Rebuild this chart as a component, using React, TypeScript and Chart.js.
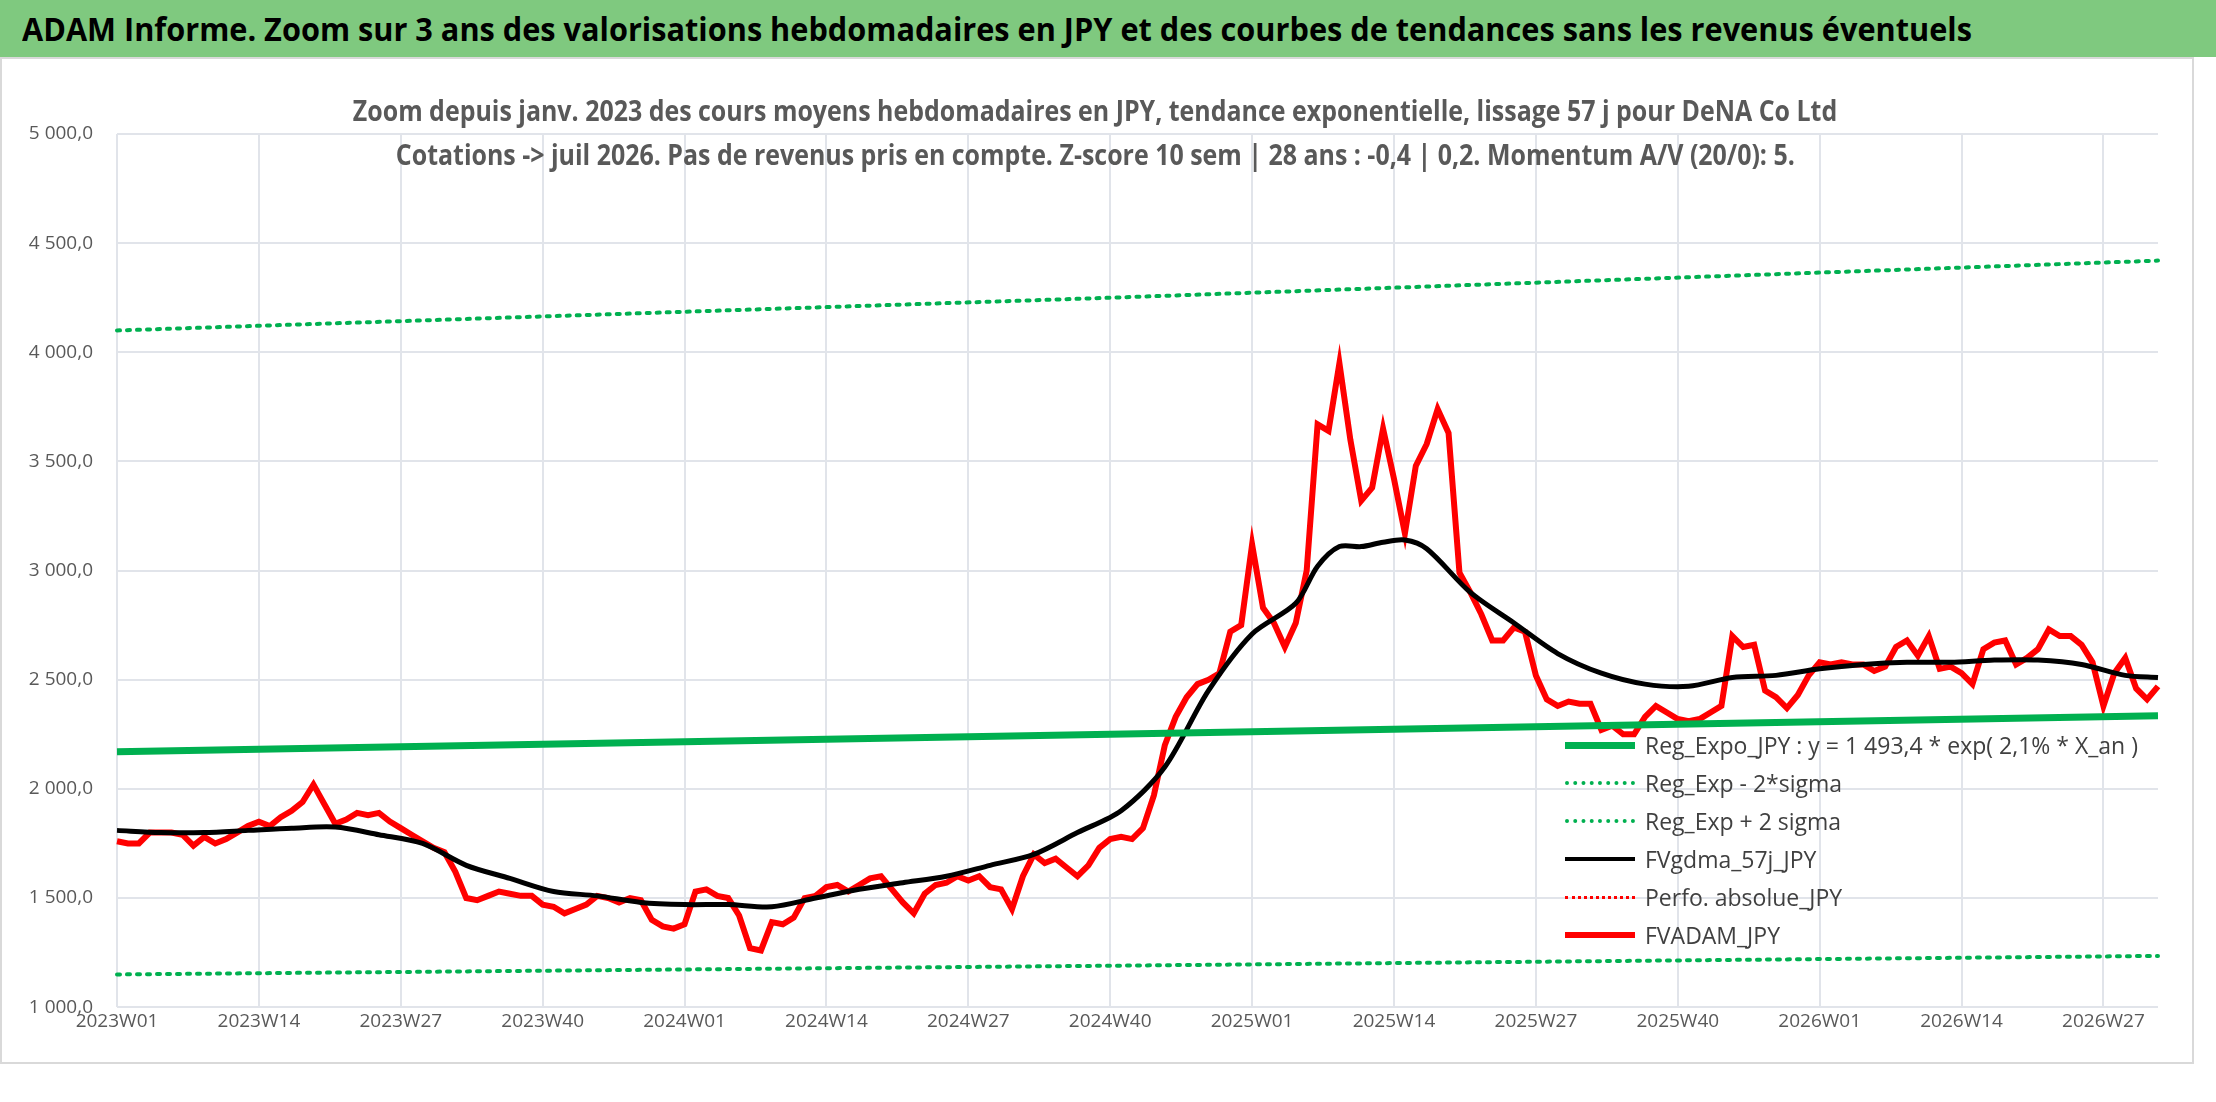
import React, { useEffect, useRef } from "react";
import { Chart, registerables } from "chart.js";
Chart.register(...registerables);

const startYear = 2023;
const weeksPerYear = [52, 52, 52, 52];
const fvadam = [1760,1750,1750,1800,1800,1800,1790,1740,1780,1750,1770,1800,1830,1850,1830,1870,1900,1940,2020,
1930,1840,1860,1890,1880,1890,1850,1820,1790,1760,1730,1710,1620,1500,1490,1510,1530,1520,1510,1510,1470,
1460,1430,1450,1470,1510,1500,1480,1500,1490,1400,1370,1360,1380,1530,1540,1510,1500,1420,1270,1260,
1390,1380,1410,1500,1510,1550,1560,1530,1560,1590,1600,1540,1480,1430,1520,1560,1570,1600,1580,1600,1550,1540,1450,
1600,1700,1660,1680,1640,1600,1650,1730,1770,1780,1770,1820,1970,2200,2330,2420,2480,2500,2530,2720,2750,3120,
2830,2760,2650,2760,3000,3670,3640,3950,3600,3320,3380,3650,3420,3170,3480,3580,3740,3630,2990,2900,2800,2680,2680,2740,2720,
2520,2410,2380,2400,2390,2390,2270,2290,2250,2250,2330,2380,2350,2320,2310,2320,2350,2380,2700,2650,2660,
2450,2420,2370,2430,2520,2580,2570,2580,2570,2570,2540,2560,2650,2680,2610,2700,2550,2560,2530,2480,
2640,2670,2680,2570,2600,2640,2730,2700,2700,2660,2580,2380,2530,2600,2460,2410,2470];
const gdmaIdx = [0,4,8,12,16,20,24,28,32,36,40,44,48,52,56,60,64,68,72,76,80,84,88,92,96,100,104,108,110,112,114,116,118,120,124,128,132,136,140,144,148,152,156,160,164,168,172,176,180,184,187];
const gdmaVal = [1810,1800,1800,1810,1820,1825,1790,1750,1650,1590,1530,1510,1480,1470,1470,1460,1500,1540,1570,1600,1650,1700,1800,1900,2100,2450,2710,2850,3020,3110,3110,3130,3140,3100,2900,2760,2620,2530,2480,2470,2510,2520,2550,2570,2580,2580,2590,2590,2570,2520,2510];
const regIdx = [0, 91, 187];
const regMid = [2170, 2250, 2335];
const regLow = [1150, 1190, 1235];
const regHigh = [4100, 4250, 4420];

const labels: string[] = [];
(() => {
  let y = startYear;
  for (const n of weeksPerYear) {
    for (let w = 1; w <= n; w++) labels.push(`${y}W${String(w).padStart(2, "0")}`);
    y++;
  }
})();
const lab = labels.slice(0, fvadam.length);
const pts = (idx: number[], v: number[]) => idx.map((i, k) => ({ x: lab[i], y: v[k] }));
const fmt = (v: number) => Math.round(v).toString().replace(/\B(?=(\d{3})+(?!\d))/g, " ") + ",0";

const titleLines = [
  "Zoom depuis janv. 2023 des cours moyens hebdomadaires en JPY, tendance exponentielle, lissage 57 j pour DeNA Co Ltd",
  "Cotations -> juil 2026. Pas de revenus pris en compte. Z-score 10 sem | 28 ans : -0,4 | 0,2. Momentum A/V (20/0): 5.",
];

const legendItems = [
  { t: "Reg_Expo_JPY : y = 1 493,4 * exp( 2,1% *  X_an )", c: "#00B050", d: false, w: 7 },
  { t: "Reg_Exp - 2*sigma", c: "#00B050", d: true, w: 4 },
  { t: "Reg_Exp + 2 sigma", c: "#00B050", d: true, w: 4 },
  { t: "FVgdma_57j_JPY", c: "#000", d: false, w: 4 },
  { t: "Perfo. absolue_JPY", c: "#FF0000", d: true, w: 3 },
  { t: "FVADAM_JPY", c: "#FF0000", d: false, w: 6 },
];

export default function App() {
  const ref = useRef<HTMLCanvasElement>(null);
  useEffect(() => {
    document.body.style.margin = "0";
    const ch = new Chart(ref.current!, {
      type: "line",
      data: {
        labels: lab,
        datasets: [
          { data: pts(regIdx, regMid) as any, borderColor: "#00B050", borderWidth: 7, pointRadius: 0 },
          { data: pts(regIdx, regLow) as any, borderColor: "#00B050", borderWidth: 4, borderDash: [3, 7], borderCapStyle: "round", pointRadius: 0 },
          { data: pts(regIdx, regHigh) as any, borderColor: "#00B050", borderWidth: 4, borderDash: [3, 7], borderCapStyle: "round", pointRadius: 0 },
          { data: pts(gdmaIdx, gdmaVal) as any, borderColor: "#000", borderWidth: 5, pointRadius: 0, tension: 0.3 },
          { data: fvadam, borderColor: "#FF0000", borderWidth: 6, pointRadius: 0 },
        ],
      },
      options: {
        animation: false,
        responsive: false,
        layout: { padding: { left: 10, right: 32, top: 74, bottom: 24 } },
        plugins: { legend: { display: false }, tooltip: { enabled: false }, title: { display: false } },
        scales: {
          x: {
            ticks: {
              autoSkip: false, maxRotation: 0, color: "#595959",
              font: { family: "Open Sans", size: 19 },
              callback: (_v: any, i: number) => (i % 13 === 0 ? lab[i] : ""),
            },
            grid: { color: (c: any) => (c.index % 13 === 0 ? "#E1E4EA" : "transparent"), lineWidth: 2, drawTicks: false },
            border: { display: false },
          },
          y: {
            min: 1000, max: 5000,
            afterFit: (s: any) => { s.width = 107; },
            ticks: { stepSize: 500, color: "#595959", font: { family: "Open Sans", size: 19 }, callback: (v: any) => fmt(v), padding: 24 },
            grid: { color: "#E1E4EA", lineWidth: 2, drawTicks: false },
            border: { display: false },
          },
        },
      },
    });
    return () => ch.destroy();
  }, []);
  return (
    <div style={{ width: 2216, height: 1102, position: "relative", background: "#fff", overflow: "hidden" }}>
      <div style={{ height: 57, background: "#7FC97F", fontFamily: "Open Sans", fontWeight: 700, fontSize: 33, lineHeight: "57px", paddingLeft: 22, color: "#000", whiteSpace: "nowrap" }}>
        <span style={{ display: "inline-block", transform: "scaleX(0.93)", transformOrigin: "left" }}>
          ADAM Informe. Zoom sur 3 ans des valorisations hebdomadaires en JPY et des courbes de tendances sans les revenus éventuels
        </span>
      </div>
      <div style={{ position: "absolute", left: 0, top: 57, width: 2190, height: 1003, border: "2px solid #D9D9D9" }} />
      <canvas ref={ref} width={2190} height={1000} style={{ position: "absolute", left: 0, top: 60 }} />
      <div style={{ position: "absolute", left: 0, width: 2190, top: 88, textAlign: "center", fontFamily: "Open Sans", fontWeight: 700, fontSize: 29, color: "#595959", lineHeight: "44px", whiteSpace: "nowrap" }}>
        {titleLines.map((t, i) => (
          <div key={i}><span style={{ display: "inline-block", transform: "scaleX(0.86)" }}>{t}</span></div>
        ))}
      </div>
      <div style={{ position: "absolute", left: 1565, top: 726, fontFamily: "Open Sans", fontSize: 23, color: "#404040" }}>
        {legendItems.map((it, i) => (
          <div key={i} style={{ display: "flex", alignItems: "center", height: 38 }}>
            <div style={{ width: 70, height: 0, borderTop: `${it.w}px ${it.d ? "dotted" : "solid"} ${it.c}`, marginRight: 10 }} />
            <span>{it.t}</span>
          </div>
        ))}
      </div>
    </div>
  );
}
